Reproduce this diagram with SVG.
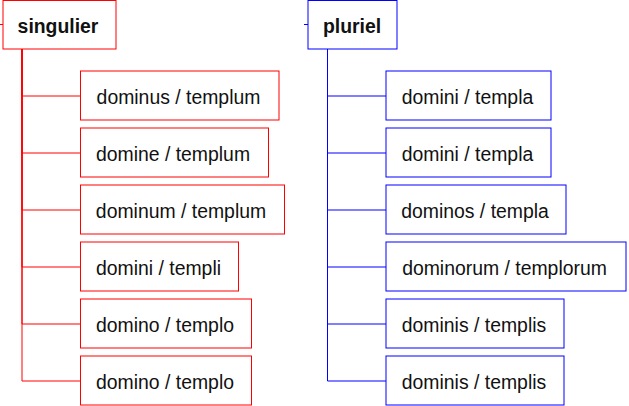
<svg xmlns="http://www.w3.org/2000/svg" width="629" height="406" viewBox="0 0 629 406">
<style>
text{font-family:"Liberation Sans",Arial,sans-serif;font-size:19.4px;fill:#111;text-anchor:middle}
.h{font-weight:bold}
.r rect{fill:#fff;stroke:#f00;stroke-width:1}
.b rect{fill:#fff;stroke:#00f;stroke-width:1}
.cr path{fill:none;stroke:#f00;stroke-width:1}
.cb path{fill:none;stroke:#00f;stroke-width:1}
</style>
<rect width="629" height="406" fill="#fff"/>
<g id="connectors">
<g class="cr">
<path d="M0 24.5H3"/>
<path d="M22 49V96H80.5"/>
<path d="M22 49V153H80.5"/>
<path d="M22 49V210H80.5"/>
<path d="M22 49V267H80.5"/>
<path d="M22 49V324H80.5"/>
<path d="M22 49V381H80.5"/>
</g>
<g class="cb">
<path d="M304 24.5H308"/>
<path d="M327.5 49V96H386"/>
<path d="M327.5 49V153H386"/>
<path d="M327.5 49V210H386"/>
<path d="M327.5 49V267H386"/>
<path d="M327.5 49V324H386"/>
<path d="M327.5 49V381H386"/>
</g>
</g>
<g id="singulier" class="r"><rect x="3" y="0.5" width="113" height="48.5"/><text class="h" x="58" y="32.5">singulier</text></g>
<g id="s1" class="r"><rect x="80.5" y="71" width="198.5" height="49"/><text x="178.5" y="103.5">dominus / templum</text></g>
<g id="s2" class="r"><rect x="80.5" y="128" width="188" height="49"/><text x="173" y="160.5">domine / templum</text></g>
<g id="s3" class="r"><rect x="80.5" y="185" width="204" height="49"/><text x="181" y="217.5">dominum / templum</text></g>
<g id="s4" class="r"><rect x="80.5" y="242" width="158" height="49"/><text x="158.5" y="274.5">domini / templi</text></g>
<g id="s5" class="r"><rect x="80.5" y="299" width="171" height="49"/><text x="165" y="331.5">domino / templo</text></g>
<g id="s6" class="r"><rect x="80.5" y="356" width="171" height="49"/><text x="165" y="388.5">domino / templo</text></g>
<g id="pluriel" class="b"><rect x="308" y="0.5" width="89" height="48.5"/><text class="h" x="352" y="32.5">pluriel</text></g>
<g id="p1" class="b"><rect x="386" y="71" width="165" height="49"/><text x="467.5" y="103.5">domini / templa</text></g>
<g id="p2" class="b"><rect x="386" y="128" width="165" height="49"/><text x="467.5" y="160.5">domini / templa</text></g>
<g id="p3" class="b"><rect x="386" y="185" width="180" height="49"/><text x="475" y="217.5">dominos / templa</text></g>
<g id="p4" class="b"><rect x="386" y="242" width="240" height="49"/><text x="504.5" y="274.5">dominorum / templorum</text></g>
<g id="p5" class="b"><rect x="386" y="299" width="178" height="49"/><text x="474" y="331.5">dominis / templis</text></g>
<g id="p6" class="b"><rect x="386" y="356" width="178" height="49"/><text x="474" y="388.5">dominis / templis</text></g>
</svg>
